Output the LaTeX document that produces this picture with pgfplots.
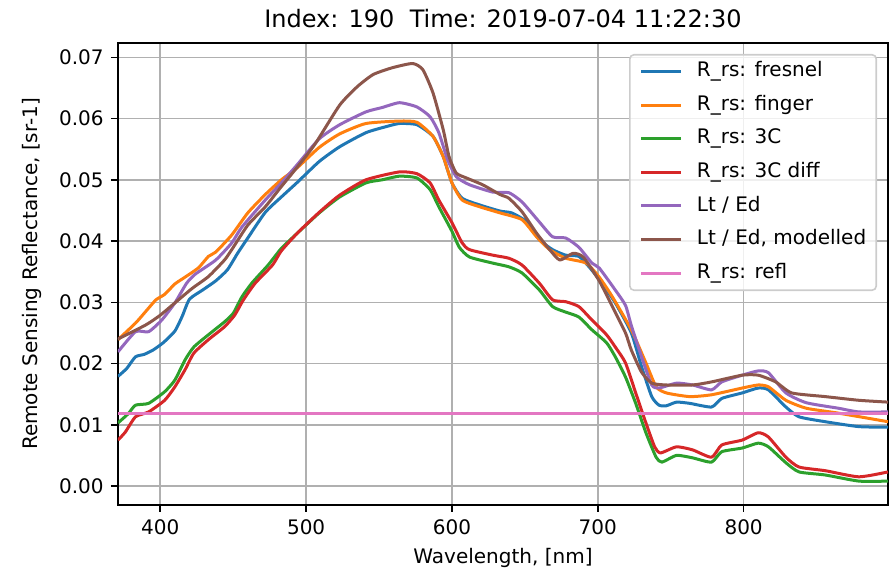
\documentclass[border=0pt]{standalone}
\usepackage{pgfplots}
\pgfplotsset{compat=1.18}
\usepackage{fontspec}
\setmainfont{DejaVu Sans}

\definecolor{c0}{HTML}{1F77B4}
\definecolor{c1}{HTML}{FF7F0E}
\definecolor{c2}{HTML}{2CA02C}
\definecolor{c3}{HTML}{D62728}
\definecolor{c4}{HTML}{9467BD}
\definecolor{c5}{HTML}{8C564B}
\definecolor{c6}{HTML}{E377C2}
\definecolor{gridgray}{HTML}{B0B0B0}

% wavelength [nm], R_rs [sr-1]
\pgfplotstableread{
wl val
371 0.0179
377 0.0192
383 0.0211
389 0.0215
395 0.0222
402 0.0234
410 0.0253
415 0.0277
420 0.0305
429 0.0320
438 0.0335
446 0.0353
453 0.0380
460 0.0405
472 0.0447
483 0.0472
494 0.0496
509 0.0530
523 0.0554
541 0.0577
555 0.0587
564 0.0592
576 0.0590
587 0.0571
594 0.0538
600 0.0495
607 0.0470
619 0.0459
633 0.0449
641 0.0446
651 0.0432
660 0.0402
669 0.0386
678 0.0377
687 0.0375
694 0.0358
701 0.0337
712 0.0299
723 0.0250
730 0.0195
737 0.0146
742 0.0132
747 0.0131
754 0.0137
763 0.0135
778 0.0129
785 0.0143
799 0.0152
810 0.0160
817 0.0157
829 0.0129
838 0.0113
856 0.0105
879 0.0097
899 0.0096
}\fresnel

\pgfplotstableread{
wl val
371 0.0239
383 0.0266
390 0.0285
397 0.0304
403 0.0313
410 0.0330
415 0.0338
426 0.0356
433 0.0375
438 0.0382
449 0.0410
460 0.0446
472 0.0476
483 0.0500
494 0.0520
509 0.0553
523 0.0575
541 0.0592
564 0.0596
576 0.0594
587 0.0571
594 0.0538
600 0.0495
607 0.0467
619 0.0456
633 0.0446
648 0.0435
658 0.0407
667 0.0386
678 0.0372
692 0.0364
701 0.0341
710 0.0309
723 0.0255
733 0.0201
740 0.0162
747 0.0152
763 0.0146
778 0.0149
799 0.0160
810 0.0165
817 0.0162
829 0.0140
843 0.0127
865 0.0119
899 0.0105
}\finger

\pgfplotstableread{
wl val
371 0.0103
378 0.0118
383 0.0132
392 0.0135
403 0.0154
410 0.0173
417 0.0206
423 0.0227
433 0.0247
444 0.0268
450 0.0282
456 0.0309
463 0.0332
474 0.0361
483 0.0388
494 0.0413
509 0.0446
523 0.0472
541 0.0495
552 0.0500
564 0.0506
576 0.0503
585 0.0484
591 0.0456
600 0.0416
605 0.0390
612 0.0374
628 0.0364
639 0.0358
648 0.0348
660 0.0320
669 0.0293
678 0.0284
687 0.0276
696 0.0255
706 0.0234
712 0.0211
719 0.0178
726 0.0135
733 0.0087
740 0.0047
744 0.0039
754 0.0050
765 0.0046
778 0.0039
785 0.0056
799 0.0062
810 0.0070
817 0.0064
829 0.0038
838 0.0023
856 0.0018
879 0.0008
899 0.0008
}\threec

\pgfplotstableread{
wl val
371 0.0075
376 0.0088
383 0.0113
392 0.0121
403 0.0140
410 0.0162
417 0.0190
423 0.0217
433 0.0239
444 0.0260
451 0.0279
457 0.0304
465 0.0331
477 0.0361
483 0.0384
494 0.0413
509 0.0447
523 0.0475
541 0.0500
564 0.0513
576 0.0510
585 0.0495
591 0.0467
600 0.0430
607 0.0397
612 0.0386
628 0.0377
639 0.0372
648 0.0361
660 0.0331
669 0.0304
678 0.0301
687 0.0293
696 0.0271
706 0.0247
712 0.0227
719 0.0201
726 0.0152
733 0.0103
739 0.0064
743 0.0054
754 0.0064
765 0.0059
778 0.0047
785 0.0067
799 0.0075
810 0.0087
817 0.0080
829 0.0047
838 0.0031
856 0.0025
879 0.0015
899 0.0023
}\threecdiff

\pgfplotstableread{
wl val
371 0.0219
383 0.0252
392 0.0252
401 0.0271
410 0.0299
418 0.0331
424 0.0346
438 0.0369
449 0.0397
456 0.0423
472 0.0467
483 0.0495
494 0.0525
509 0.0567
523 0.0590
541 0.0611
552 0.0618
564 0.0626
576 0.0619
585 0.0603
591 0.0577
597 0.0533
603 0.0505
612 0.0492
628 0.0480
639 0.0479
648 0.0464
660 0.0431
669 0.0407
678 0.0405
687 0.0390
696 0.0364
701 0.0356
712 0.0320
719 0.0295
723 0.0262
730 0.0211
737 0.0165
742 0.0160
754 0.0168
765 0.0165
778 0.0157
785 0.0170
799 0.0181
810 0.0188
817 0.0185
829 0.0152
843 0.0136
865 0.0127
879 0.0121
899 0.0121
}\lted

\pgfplotstableread{
wl val
371 0.0240
390 0.0263
400 0.0279
410 0.0299
422 0.0323
433 0.0342
444 0.0369
449 0.0386
460 0.0426
472 0.0456
483 0.0489
494 0.0521
506 0.0558
523 0.0622
535 0.0652
546 0.0672
559 0.0683
573 0.0690
580 0.0680
587 0.0642
594 0.0582
598 0.0538
603 0.0511
610 0.0503
621 0.0492
633 0.0476
639 0.0470
648 0.0448
658 0.0413
667 0.0386
674 0.0369
683 0.0380
690 0.0374
701 0.0335
710 0.0293
719 0.0250
723 0.0222
730 0.0186
737 0.0168
747 0.0165
765 0.0165
778 0.0170
799 0.0181
810 0.0181
822 0.0170
833 0.0152
856 0.0146
879 0.0140
899 0.0137
}\ltedmod

\pgfplotstableread{
wl val
371 0.0118
899 0.0118
}\refl

\begin{document}
\begin{tikzpicture}
\begin{axis}[
    scale only axis,
    width=385pt, height=231pt,
    xmin=371, xmax=899,
    ymin=-0.0031, ymax=0.07235,
    xtick={400,500,600,700,800},
    ytick={0,0.01,0.02,0.03,0.04,0.05,0.06,0.07},
    scaled y ticks=false,
    yticklabel style={/pgf/number format/fixed,
        /pgf/number format/fixed zerofill,
        /pgf/number format/precision=2},
    /pgf/number format/assume math mode=true,
    tick label style={font=\fontsize{10}{12}\selectfont, inner sep=0pt},
    xticklabel style={anchor=north, yshift=-3.5pt},
    yticklabel style={anchor=east, xshift=-3.5pt},
    tick align=outside, tick pos=left,
    major tick length=3.5pt,
    tick style={black, line width=0.8pt},
    axis line style={black, line width=0.8pt},
    grid=major,
    grid style={gridgray, line width=0.8pt},
    title={Index: 190\ \ Time: 2019-07-04 11:22:30},
    title style={font=\fontsize{12}{14}\selectfont, at={(0.5,1)},
        anchor=base, yshift=1.5pt, inner sep=0pt},
    xlabel={Wavelength, [nm]},
    xlabel style={font=\fontsize{10}{12}\selectfont, at={(0.5,0)},
        anchor=north, yshift=-21.5pt, inner sep=0pt},
    ylabel={Remote Sensing Reflectance, [sr-1]},
    ylabel style={font=\fontsize{10}{12}\selectfont,
        at={([xshift=-38pt]rel axis cs:0,0.5)},
        anchor=south, inner sep=0pt},
    legend cell align=left,
    legend image code/.code={\draw[#1] (0pt,0pt) -- (20pt,0pt);},
    legend style={at={(1,1)}, anchor=north east, xshift=-5.5pt, yshift=-5.5pt,
        draw=black!20, line width=0.8pt, rounded corners=2pt,
        fill=white, fill opacity=0.8, text opacity=1,
        font=\fontsize{10}{12}\selectfont,
        inner xsep=5pt, inner ysep=3.5pt, row sep=6.7pt, column sep=7pt,
        nodes={inner sep=0pt, text depth=0.25em}},
    every axis plot/.append style={line width=1.5pt, line join=round,
        smooth, tension=0.35},
]
\addplot[c0] table[x=wl, y=val] {\fresnel};
\addlegendentry{R\_rs: fresnel}
\addplot[c1] table[x=wl, y=val] {\finger};
\addlegendentry{R\_rs: finger}
\addplot[c2] table[x=wl, y=val] {\threec};
\addlegendentry{R\_rs: 3C}
\addplot[c3] table[x=wl, y=val] {\threecdiff};
\addlegendentry{R\_rs: 3C diff}
\addplot[c4] table[x=wl, y=val] {\lted};
\addlegendentry{Lt / Ed}
\addplot[c5] table[x=wl, y=val] {\ltedmod};
\addlegendentry{Lt / Ed, modelled}
\addplot[c6] table[x=wl, y=val] {\refl};
\addlegendentry{R\_rs: refl}
\coordinate (sw) at (rel axis cs:0,0);
\coordinate (ne) at (rel axis cs:1,1);
\end{axis}
\pgfresetboundingbox
\path[use as bounding box] ([xshift=-59pt,yshift=-33.5pt]sw) rectangle ([xshift=2pt,yshift=21.5pt]ne);
\end{tikzpicture}
\end{document}
